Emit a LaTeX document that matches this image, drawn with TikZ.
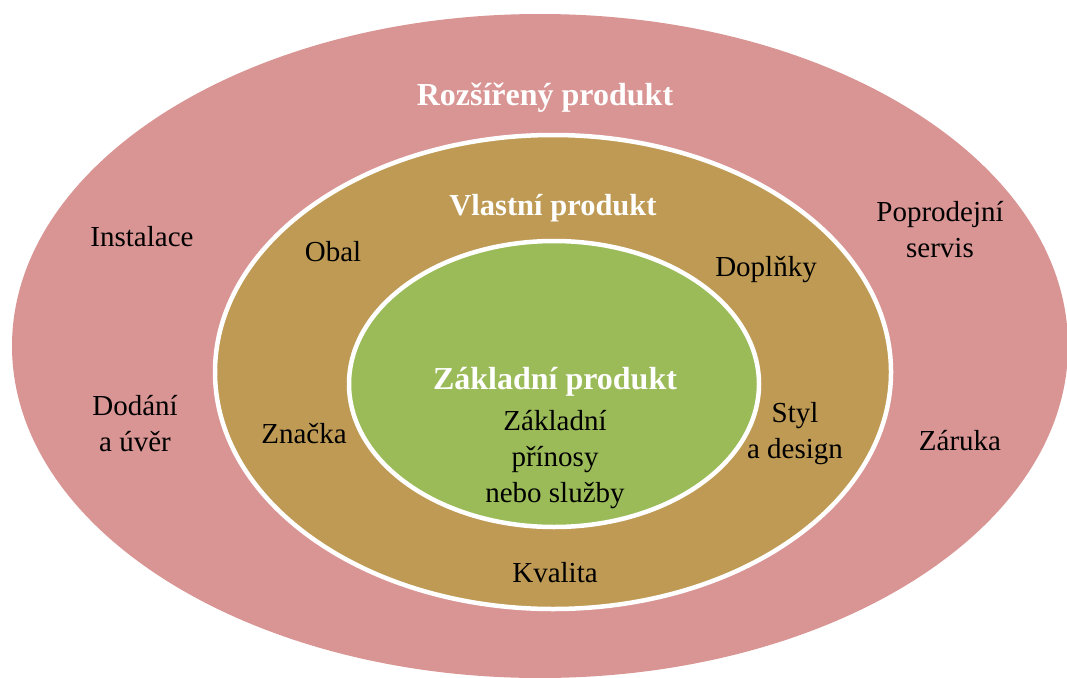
\documentclass[tikz,border=0pt]{standalone}
\usepackage{fontspec}
\setmainfont{Liberation Serif}
\definecolor{extpink}{HTML}{D99594}
\definecolor{ownbrown}{HTML}{BE9A54}
\definecolor{coregreen}{HTML}{9BBB59}
\tikzset{
  ring/.style={draw=white, line width=4.5pt},
  title/.style={text=white, font=\fontsize{30.5}{36}\selectfont\bfseries, align=center},
  bigtitle/.style={title, font=\fontsize{32}{36}\selectfont\bfseries},
  item/.style={text=black, font=\fontsize{29}{36}\selectfont, align=center}
}
\begin{document}
\begin{tikzpicture}[x=1pt,y=-1pt]
  \useasboundingbox (0,0) rectangle (1067,677);
  \clip (0,0) rectangle (1067,677);
  \fill[white] (0,0) rectangle (1067,677);
  % three nested layers
  \fill[extpink] (540,346) ellipse [x radius=528, y radius=332];
  \filldraw[ring, fill=ownbrown] (553,372) ellipse [x radius=338, y radius=237];
  \filldraw[ring, fill=coregreen] (554,384) ellipse [x radius=205, y radius=143];
  % layer titles
  \node[bigtitle] (ext) at (545,98) {Rozšířený produkt};
  \node[title] (own) at (553,208) {Vlastní produkt};
  \node[bigtitle] (core) at (555,382) {Základní produkt};
  % core
  \node[item] (benefit) at (555,460) {Základní\\přínosy\\nebo služby};
  % actual product
  \node[item] (obal) at (333,252) {Obal};
  \node[item] (znacka) at (304,434) {Značka};
  \node[item] (doplnky) at (766,270) {Doplňky};
  \node[item] (styl) at (795,434) {Styl\\a design};
  \node[item] (kvalita) at (555,573) {Kvalita};
  % augmented product
  \node[item] (instalace) at (142,237) {Instalace};
  \node[item] (dodani) at (135,424) {Dodání\\a úvěr};
  \node[item] (servis) at (940,230) {Poprodejní\\servis};
  \node[item] (zaruka) at (960,441) {Záruka};
\end{tikzpicture}
\end{document}
